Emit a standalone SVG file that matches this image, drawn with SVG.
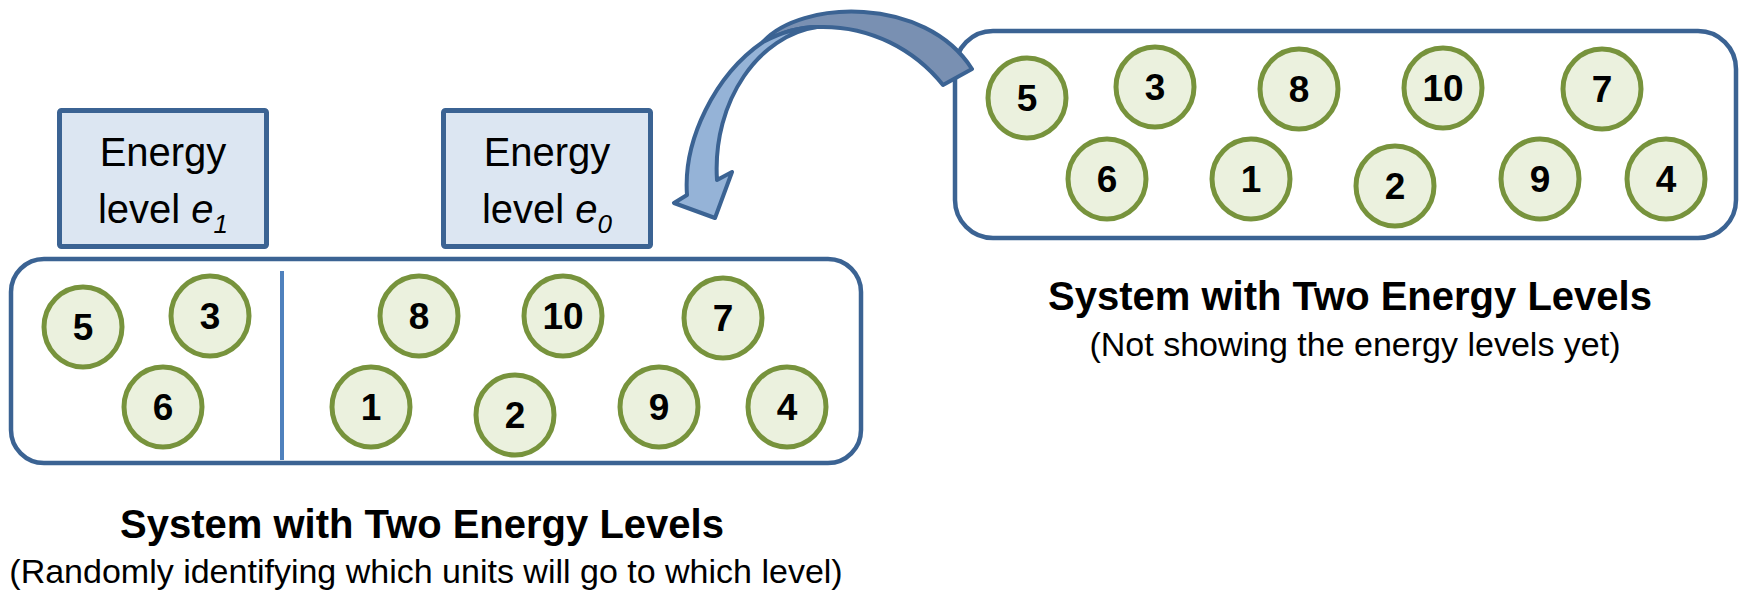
<svg xmlns="http://www.w3.org/2000/svg" width="1746" height="595" viewBox="0 0 1746 595">
<style>
.sys{fill:#ffffff;stroke:#3B6393;stroke-width:4.5}
.lvl{fill:#DCE6F2;stroke:#3B6393;stroke-width:5}
.unit{fill:#EBF1DE;stroke:#77933C;stroke-width:5}
.num{font-family:"Liberation Sans",Arial,sans-serif;font-weight:bold;font-size:37px;fill:#000;text-anchor:middle}
.lbl{font-family:"Liberation Sans",Arial,sans-serif;font-size:40px;fill:#000;text-anchor:middle}
.title{font-family:"Liberation Sans",Arial,sans-serif;font-weight:bold;font-size:40px;fill:#000;text-anchor:middle}
.sub{font-family:"Liberation Sans",Arial,sans-serif;font-size:34px;fill:#000;text-anchor:middle}
</style>
<rect width="1746" height="595" fill="#ffffff"/>

<g id="system-left">
  <rect class="sys" x="11" y="259" width="850" height="204" rx="33"/>
  <line x1="282" y1="271" x2="282" y2="460" stroke="#4F81BD" stroke-width="4"/>
</g>

<g id="system-right">
  <rect class="sys" x="955" y="31" width="781" height="207" rx="38"/>
</g>

<g id="level-e1">
  <rect class="lvl" x="59.5" y="110.5" width="207" height="136" rx="2"/>
  <text class="lbl" x="163" y="166">Energy</text>
  <text class="lbl" x="163" y="223">level <tspan font-style="italic">e</tspan><tspan font-style="italic" font-size="26px" dy="10">1</tspan></text>
</g>

<g id="level-e0">
  <rect class="lvl" x="443.5" y="110.5" width="207" height="136" rx="2"/>
  <text class="lbl" x="547" y="166">Energy</text>
  <text class="lbl" x="547" y="223">level <tspan font-style="italic">e</tspan><tspan font-style="italic" font-size="26px" dy="10">0</tspan></text>
</g>

<g id="units-left">
  <g id="L5"><ellipse class="unit" cx="83" cy="327" rx="39" ry="40"/><text class="num" x="83" y="340">5</text></g>
  <g id="L3"><ellipse class="unit" cx="210" cy="316" rx="39" ry="40"/><text class="num" x="210" y="329">3</text></g>
  <g id="L6"><ellipse class="unit" cx="163" cy="407" rx="39" ry="40"/><text class="num" x="163" y="420">6</text></g>
  <g id="L8"><ellipse class="unit" cx="419" cy="316" rx="39" ry="40"/><text class="num" x="419" y="329">8</text></g>
  <g id="L10"><ellipse class="unit" cx="563" cy="316" rx="39" ry="40"/><text class="num" x="563" y="329">10</text></g>
  <g id="L7"><ellipse class="unit" cx="723" cy="318" rx="39" ry="40"/><text class="num" x="723" y="331">7</text></g>
  <g id="L1"><ellipse class="unit" cx="371" cy="407" rx="39" ry="40"/><text class="num" x="371" y="420">1</text></g>
  <g id="L2"><ellipse class="unit" cx="515" cy="415" rx="39" ry="40"/><text class="num" x="515" y="428">2</text></g>
  <g id="L9"><ellipse class="unit" cx="659" cy="407" rx="39" ry="40"/><text class="num" x="659" y="420">9</text></g>
  <g id="L4"><ellipse class="unit" cx="787" cy="407" rx="39" ry="40"/><text class="num" x="787" y="420">4</text></g>
</g>

<g id="units-right">
  <g id="R5"><ellipse class="unit" cx="1027" cy="98" rx="39" ry="40"/><text class="num" x="1027" y="111">5</text></g>
  <g id="R3"><ellipse class="unit" cx="1155" cy="87" rx="39" ry="40"/><text class="num" x="1155" y="100">3</text></g>
  <g id="R8"><ellipse class="unit" cx="1299" cy="89" rx="39" ry="40"/><text class="num" x="1299" y="102">8</text></g>
  <g id="R10"><ellipse class="unit" cx="1443" cy="88" rx="39" ry="40"/><text class="num" x="1443" y="101">10</text></g>
  <g id="R7"><ellipse class="unit" cx="1602" cy="89" rx="39" ry="40"/><text class="num" x="1602" y="102">7</text></g>
  <g id="R6"><ellipse class="unit" cx="1107" cy="179" rx="39" ry="40"/><text class="num" x="1107" y="192">6</text></g>
  <g id="R1"><ellipse class="unit" cx="1251" cy="179" rx="39" ry="40"/><text class="num" x="1251" y="192">1</text></g>
  <g id="R2"><ellipse class="unit" cx="1395" cy="186" rx="39" ry="40"/><text class="num" x="1395" y="199">2</text></g>
  <g id="R9"><ellipse class="unit" cx="1540" cy="179" rx="39" ry="40"/><text class="num" x="1540" y="192">9</text></g>
  <g id="R4"><ellipse class="unit" cx="1666" cy="179" rx="39" ry="40"/><text class="num" x="1666" y="192">4</text></g>
</g>

<g id="connectors">
  <path d="M972,69 C925,-5 800,0 763,42 C780,33 800,27 817,27 C870,25 915,50 943,85 Z" fill="#7990B2" stroke="#3B6393" stroke-width="4" stroke-linejoin="round"/>
  <path d="M763,42 C715,75 683,140 687,195 L674,203 L715,218 L732,172 L717,180 C712,100 760,35 817,27 C800,27 780,33 763,42 Z" fill="#95B3D7" stroke="#3B6393" stroke-width="4" stroke-linejoin="round"/>
</g>

<g id="captions">
  <text class="title" x="422" y="538">System with Two Energy Levels</text>
  <text class="sub" x="426" y="583">(Randomly identifying which units will go to which level)</text>
  <text class="title" x="1350" y="310">System with Two Energy Levels</text>
  <text class="sub" x="1355" y="356">(Not showing the energy levels yet)</text>
</g>
</svg>
